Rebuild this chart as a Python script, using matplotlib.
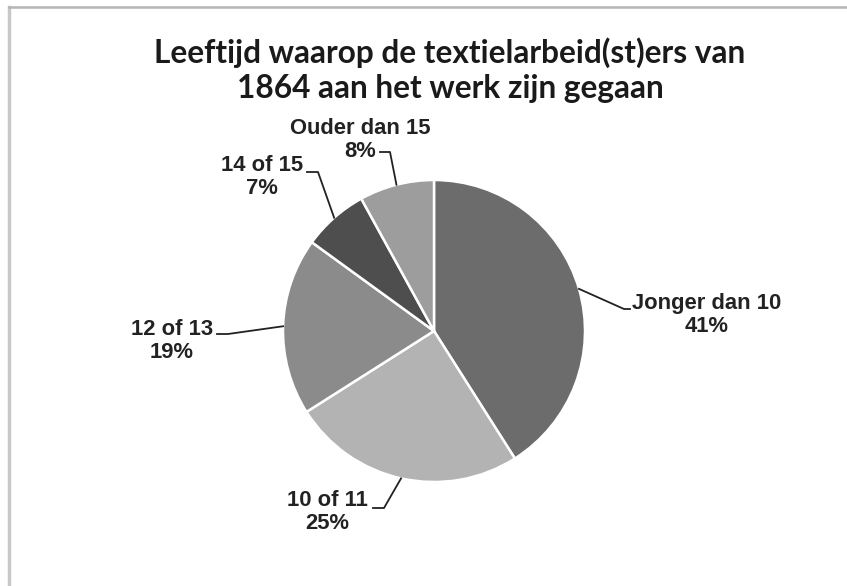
import numpy as np
import matplotlib.pyplot as plt

W, H = 847, 586

TITLE = 'Leeftijd waarop de textielarbeid(st)ers van\n1864 aan het werk zijn gegaan'
categories = ['Jonger dan 10', '10 of 11', '12 of 13', '14 of 15', 'Ouder dan 15']
shares = [41, 25, 19, 7, 8]
colors = ['#6c6c6c', '#b3b3b3', '#8b8b8b', '#4e4e4e', '#9d9d9d']

# label placement (pixel coords of the label block centre) and leader elbows
label_pos = [(707, 315), (327, 512), (172, 341), (262, 177), (360, 140)]
elbow_pos = [(624, 309), (384, 508), (228, 334), (318, 172), (390, 152)]
leader_end = [(630, 309), (373, 508), (217, 334), (307, 172), (380, 152)]

CX, CY, R = 434, 331, 151


def fy(py):
    return H - py


fig = plt.figure(figsize=(W / 100, H / 100), dpi=100)
ax = fig.add_axes([0, 0, 1, 1])

wedges, _ = ax.pie(shares, colors=colors, startangle=90, counterclock=False,
                   center=(CX, fy(CY)), radius=R, frame=True,
                   wedgeprops=dict(edgecolor='white', linewidth=1.8))
ax.set_xlim(0, W)
ax.set_ylim(0, H)
ax.set_aspect('equal')
ax.axis('off')

# light frame as in the screenshot
ax.plot([9, 9], [fy(7), 0], color='#c8c8c8', lw=2.5)
ax.plot([9, W], [fy(7), fy(7)], color='#b5b5b5', lw=1.8)

ax.text(450, fy(70), TITLE, ha='center', va='center', fontsize=22.8,
        fontfamily='Lato', fontweight='bold', color='#1a1a1a', linespacing=1.28)

for w, cat, val, lp, el, le in zip(wedges, categories, shares, label_pos,
                                   elbow_pos, leader_end):
    ang = np.deg2rad((w.theta1 + w.theta2) / 2)
    px = CX + R * np.cos(ang)
    py = CY - R * np.sin(ang)
    ax.plot([px, el[0], le[0]], [fy(py), fy(el[1]), fy(le[1])],
            color='#222222', lw=1.3)
    ax.text(lp[0], fy(lp[1]), f'{cat}\n{val}%', ha='center', va='center',
            fontsize=15.8, fontfamily='Liberation Sans', fontweight='bold',
            color='#222222', linespacing=1.1)

fig.savefig('out.png', dpi=100)
